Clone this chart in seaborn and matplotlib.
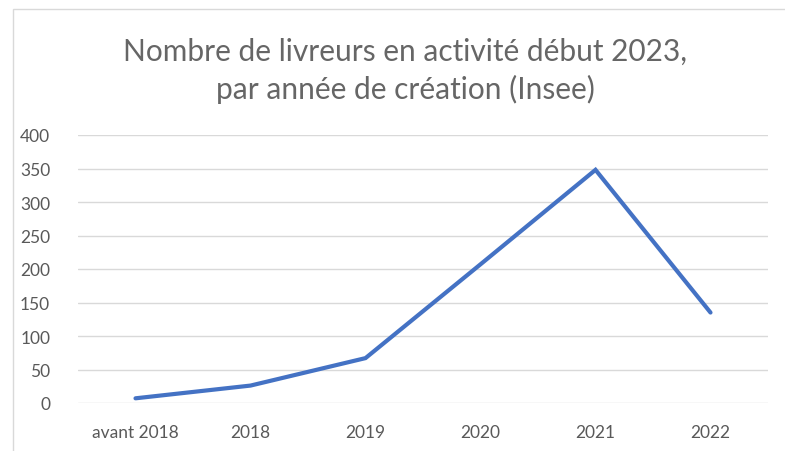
import matplotlib
matplotlib.use("Agg")
import matplotlib.pyplot as plt
import seaborn as sns
import pandas as pd
from matplotlib.patches import Rectangle

categories = ["avant 2018", "2018", "2019", "2020", "2021", "2022"]
values = [7, 26, 67, 207, 348, 135]
yticks = [0, 50, 100, 150, 200, 250, 300, 350, 400]
title = "Nombre de livreurs en activité début 2023,\npar année de création (Insee)"

sns.set_theme(style="white")
plt.rcParams['font.family'] = ['Lato', 'DejaVu Sans']

df = pd.DataFrame({"cat": categories, "val": values})
fig = plt.figure(figsize=(7.85, 4.52), dpi=100)
ax = fig.add_axes([78/785, 48/452, 690/785, 268/452])

sns.lineplot(data=df, x="cat", y="val", ax=ax, color="#4472C4", linewidth=3.0,
             sort=False, solid_capstyle="round", solid_joinstyle="miter")

ax.set_xlim(-0.5, len(categories) - 0.5)
ax.set_ylim(0, 400)
ax.set_yticks(yticks)
ax.set_yticklabels([str(t) for t in yticks])
ax.grid(axis="y", color="#d9d9d9", linewidth=1)
ax.set_axisbelow(True)
for s in ax.spines.values():
    s.set_visible(False)
ax.tick_params(axis="both", length=0, labelsize=12.5, labelcolor="#595959")
ax.tick_params(axis="y", pad=20)
ax.tick_params(axis="x", pad=15)
ax.set_xlabel("")
ax.set_ylabel("")

fig.text(405/785, 1 - 71/452, title, ha="center", va="center", fontsize=21.5,
         color="#666666", linespacing=1.4)

fig.patches.append(Rectangle((13/785, -0.1), 1.2, (452-10)/452 + 0.1, transform=fig.transFigure,
                             fill=False, edgecolor="#d9d9d9", linewidth=1))

fig.savefig("out.png", dpi=100)
